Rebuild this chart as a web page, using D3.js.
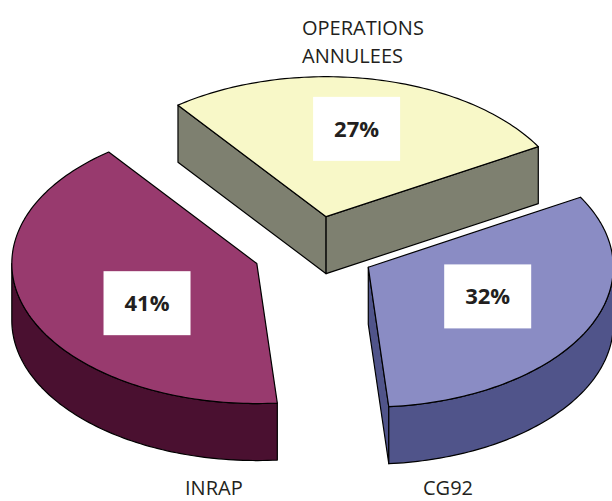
<!DOCTYPE html>
<html>
<head>
<meta charset="utf-8">
<script src="https://cdn.jsdelivr.net/npm/d3@7"></script>
<style>
  html, body { margin: 0; padding: 0; background: #fff; }
  svg { display: block; }
  .cat { font-family: "Open Sans", sans-serif; font-size: 20px; fill: #231f20; }
  .pct { font-family: "Open Sans", sans-serif; font-size: 22px; font-weight: bold; fill: #231f20; }
</style>
</head>
<body>
<script>

//====================DATA===================

const categories = ['OPERATIONS ANNULEES', 'CG92', 'INRAP'];
const values = [27, 32, 41];
const pctLabels = ['27%', '32%', '41%'];

const topColors = ['#f8f8c8', '#8a8cc4', '#983a6e'];
const sideColors = ['#7e8070', '#50548a', '#4a1030'];

//====================LAYOUT===================

const width = 612, height = 501;

const cx = 314, cy = 251;      // pie centre before explosion
const rx = 245, ry = 140;      // ellipse radii of the top face
const depth = 57;              // thickness of the slab
const explode = 0.25;          // offset of every slice, fraction of radius

// where the white % boxes sit along each bisector (fraction of rx / ry)
const labelFrac = [[0.63, 0.64], [0.55, 0.45], [0.48, 0.79]];
const boxW = 87, boxH = 64;

// outside category labels (text anchors)
const catPos = [[302, 35], [423, 495], [185, 495]];

const svg = d3.select('body')
.append('svg')
.attr('width', width)
.attr('height', height)

// d3 pie angles: 0 at 12 o'clock, clockwise. screen angle = a - 90deg
const startDeg = -37.2;
const pie = d3.pie()
.sort(null)
.value(d => d)
.startAngle(startDeg * Math.PI / 180)
.endAngle((startDeg + 360) * Math.PI / 180);

const arcs = pie(values).map((d, i) => {
	const a0 = d.startAngle - Math.PI / 2;
	const a1 = d.endAngle - Math.PI / 2;
	const mid = (a0 + a1) / 2;
	return {
		i, a0, a1, mid,
		c: [cx + explode * rx * Math.cos(mid), cy + explode * ry * Math.sin(mid)]
	};
});

const pt = (c, t, z = 0) => [c[0] + rx * Math.cos(t), c[1] + ry * Math.sin(t) + z];

const arcPts = (c, t0, t1, z = 0) => {
	const n = Math.max(2, Math.ceil(Math.abs(t1 - t0) / 0.02));
	return d3.range(n + 1).map(k => pt(c, t0 + (t1 - t0) * k / n, z));
};

const line = d3.line();

// back to front: top slice first
const order = arcs.slice().sort((a, b) => Math.sin(a.mid) - Math.sin(b.mid));

order.forEach(s => {
	const g = svg.append('g');
	const c = s.c;
	const cBot = [c[0], c[1] + depth];

	// radial faces
	const faces = [];
	if (Math.cos(s.a0) < 0) faces.push(s.a0);
	if (Math.cos(s.a1) > 0) faces.push(s.a1);
	faces.forEach(t => {
		g.append('path')
		.attr('d', line([c, pt(c, t), pt(c, t, depth), cBot]) + 'Z')
		.attr('fill', sideColors[s.i])
		.attr('stroke', '#000')
		.attr('stroke-width', 1.2)
		.attr('stroke-linejoin', 'round');
	});

	// outer wall (front half only)
	const w0 = Math.max(s.a0, 0), w1 = Math.min(s.a1, Math.PI);
	if (w1 > w0) {
		const pts = arcPts(c, w0, w1).concat(arcPts(c, w1, w0, depth));
		g.append('path')
		.attr('d', line(pts) + 'Z')
		.attr('fill', sideColors[s.i])
		.attr('stroke', '#000')
		.attr('stroke-width', 1.2)
		.attr('stroke-linejoin', 'round');
	}

	// top face
	g.append('path')
	.attr('d', line([c].concat(arcPts(c, s.a0, s.a1))) + 'Z')
	.attr('fill', topColors[s.i])
	.attr('stroke', '#000')
	.attr('stroke-width', 1.2)
	.attr('stroke-linejoin', 'round');
});

//====================LABELS===================

arcs.forEach(s => {
	const lx = s.c[0] + labelFrac[s.i][0] * rx * Math.cos(s.mid);
	const ly = s.c[1] + labelFrac[s.i][1] * ry * Math.sin(s.mid);

	svg.append('rect')
	.attr('x', lx - boxW / 2)
	.attr('y', ly - boxH / 2)
	.attr('width', boxW)
	.attr('height', boxH)
	.attr('fill', '#fff');

	svg.append('text')
	.attr('class', 'pct')
	.attr('x', lx)
	.attr('y', ly + 8)
	.attr('text-anchor', 'middle')
	.text(pctLabels[s.i]);
});

categories.forEach((name, i) => {
	const words = i === 0 ? name.split(' ') : [name];
	const t = svg.append('text')
	.attr('class', 'cat')
	.attr('x', catPos[i][0])
	.attr('y', catPos[i][1]);
	words.forEach((w, k) => {
		t.append('tspan')
		.attr('x', catPos[i][0])
		.attr('dy', k === 0 ? 0 : 28)
		.text(w);
	});
});

</script>
</body>
</html>
